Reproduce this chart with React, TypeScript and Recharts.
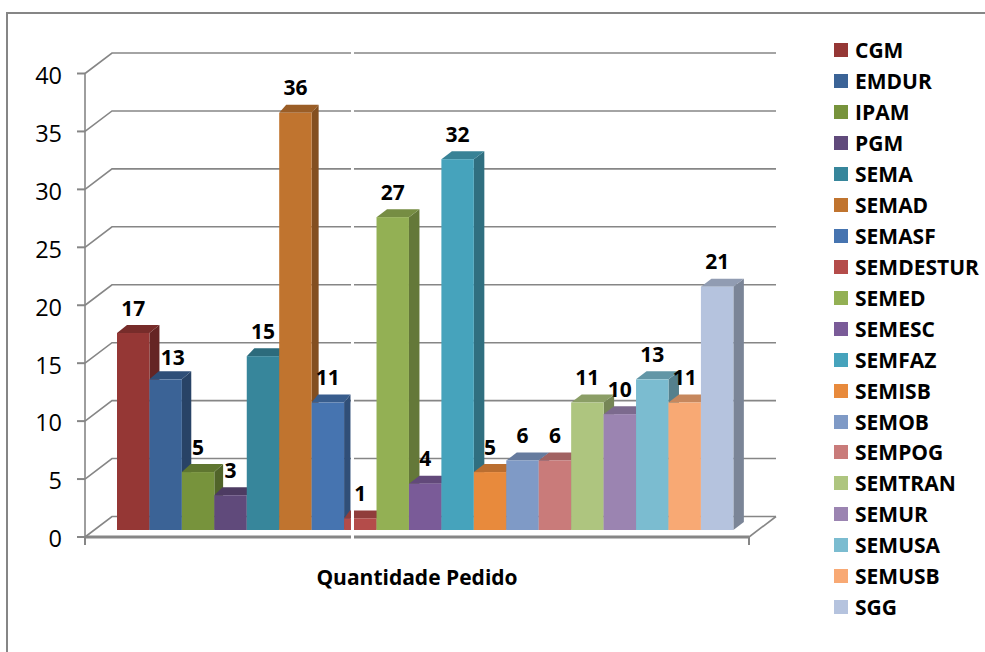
import { BarChart, Bar, XAxis, YAxis, CartesianGrid, Legend, LabelList } from "recharts"

const categories = ["Quantidade Pedido"]
const seriesNames = ["CGM", "EMDUR", "IPAM", "PGM", "SEMA", "SEMAD", "SEMASF", "SEMDESTUR", "SEMED", "SEMESC", "SEMFAZ", "SEMISB", "SEMOB", "SEMPOG", "SEMTRAN", "SEMUR", "SEMUSA", "SEMUSB", "SGG"]
const seriesValues = [17, 13, 5, 3, 15, 36, 11, 1, 27, 4, 32, 5, 6, 6, 11, 10, 13, 11, 21]
const seriesColors = ["#953735", "#3b6396", "#77933c", "#604a7b", "#37869b", "#c0742f", "#4674b0", "#b44c4a", "#93b054", "#7a5b98", "#46a3bc", "#e88a3c", "#7f9ac6", "#c97b7a", "#aec57f", "#9b84b1", "#7bbcd0", "#f8a974", "#b5c3de"]
const yTicks = [0, 5, 10, 15, 20, 25, 30, 35, 40]

const chartData = categories.map((name) => {
  const row: Record<string, string | number> = { name }
  seriesNames.forEach((s, i) => { row[s] = seriesValues[i] })
  return row
})

const FONT = "'Open Sans', sans-serif"
const GRID = "#868686"
const WALL_X = 27
const WALL_Y = -20.5
const BAR_X = 8
const BAR_Y = -7

function shade(hex: string, k: number) {
  const n = parseInt(hex.slice(1), 16)
  const c = [(n >> 16) & 255, (n >> 8) & 255, n & 255].map((v) => Math.round(v * k))
  return `rgb(${c[0]},${c[1]},${c[2]})`
}

// bars left of the gap in the picture lose a bit of depth
const depthAt = (x: number) => (x < 350 ? 10 - ((x - 117) * 3) / 162 : 10.5)

function Bar3D(props: any) {
  const { x, y, width, height, fill } = props
  const fx = x + BAR_X
  const fy = y + BAR_Y
  const d = depthAt(fx)
  const up = 8
  return (
    <g>
      <polygon
        points={`${fx + width},${fy} ${fx + width + d},${fy - up} ${fx + width + d},${fy + height - up} ${fx + width},${fy + height}`}
        fill={shade(fill, 0.68)}
      />
      <polygon
        points={`${fx},${fy} ${fx + d},${fy - up} ${fx + width + d},${fy - up} ${fx + width},${fy}`}
        fill={shade(fill, 0.8)}
      />
      <rect x={fx} y={fy} width={width} height={height} fill={fill} />
    </g>
  )
}

function GridLine(props: any) {
  const { x1, x2, y1, index } = props
  const isFloor = index === 0 || y1 > 530
  const wx1 = x1 + WALL_X
  const wx2 = x2 + WALL_X
  const wy = y1 + WALL_Y
  return (
    <g key={`grid-${index}`} fill="none" stroke={GRID}>
      <polyline points={`${x1},${y1} ${wx1},${wy} ${wx2},${wy}`} strokeWidth={1.6} />
      {isFloor && (
        <>
          <line x1={x2} y1={y1} x2={wx2} y2={wy} strokeWidth={1.6} />
          <line x1={x1} y1={y1} x2={x1} y2={y1 + 8} strokeWidth={2} />
          <line x1={x2} y1={y1} x2={x2} y2={y1 + 8} strokeWidth={2} />
        </>
      )}
    </g>
  )
}

function ValueLabel(props: any) {
  const { x, y, width, value, name } = props
  const nudgeX = name === "EMDUR" ? 7 : 0
  const nudgeY = name === "EMDUR" ? 3 : 0
  return (
    <text
      x={x + width / 2 + BAR_X + nudgeX}
      y={y + BAR_Y - 25 + nudgeY}
      dy="0.36em"
      textAnchor="middle"
      fontFamily={FONT}
      fontWeight={700}
      fontSize={21}
      fill="#000"
    >
      {value}
    </text>
  )
}

function LegendList({ payload }: any) {
  return (
    <div style={{ fontFamily: FONT, fontWeight: 700, fontSize: 21, color: "#000" }}>
      {(payload ?? []).map((p: any) => (
        <div key={p.value} style={{ display: "flex", alignItems: "center", height: 30.93 }}>
          <span style={{ width: 14, height: 14, background: p.color, marginRight: 7, flex: "none" }} />
          <span>{p.value}</span>
        </div>
      ))}
    </div>
  )
}

export default function App() {
  return (
    <div style={{ position: "absolute", left: 0, top: 0, width: 985, height: 652, overflow: "hidden", background: "#fff" }}>
      <div style={{ position: "absolute", left: 6, top: 11.5, width: 990, height: 660, borderTop: `2px solid ${GRID}`, borderLeft: `2px solid ${GRID}` }} />
      <BarChart
        width={985}
        height={652}
        data={chartData}
        margin={{ top: 73.5, right: 86, bottom: 55, left: 25 }}
        barCategoryGap={24}
        barGap={0}
        barSize={32.44}
      >
        <CartesianGrid vertical={false} horizontal={GridLine} />
        <XAxis
          dataKey="name"
          height={60}
          tickLine={false}
          tickMargin={27}
          axisLine={{ stroke: GRID, strokeWidth: 3 }}
          tick={{ fill: "#000", fontSize: 21, fontWeight: 700, fontFamily: FONT }}
        />
        <YAxis
          width={60}
          domain={[0, 40]}
          ticks={yTicks}
          tickSize={8}
          tickMargin={15}
          axisLine={{ stroke: GRID, strokeWidth: 1.6 }}
          tickLine={{ stroke: GRID, strokeWidth: 2 }}
          tick={{ fill: "#000", fontSize: 23.5, fontFamily: FONT, dy: 2 }}
        />
        <Legend
          layout="vertical"
          align="right"
          verticalAlign="top"
          width={150}
          itemSorter={null}
          wrapperStyle={{ left: 834, top: 35 }}
          content={<LegendList />}
        />
        {seriesNames.map((s, i) => (
          <Bar key={s} dataKey={s} fill={seriesColors[i]} shape={Bar3D} isAnimationActive={false}>
            <LabelList dataKey={s} content={(p: any) => <ValueLabel {...p} name={s} />} />
          </Bar>
        ))}
      </BarChart>
      {/* white seam that runs through the whole plot in the picture */}
      <div style={{ position: "absolute", left: 351, top: 45, width: 3, height: 505, background: "#fff" }} />
    </div>
  )
}
